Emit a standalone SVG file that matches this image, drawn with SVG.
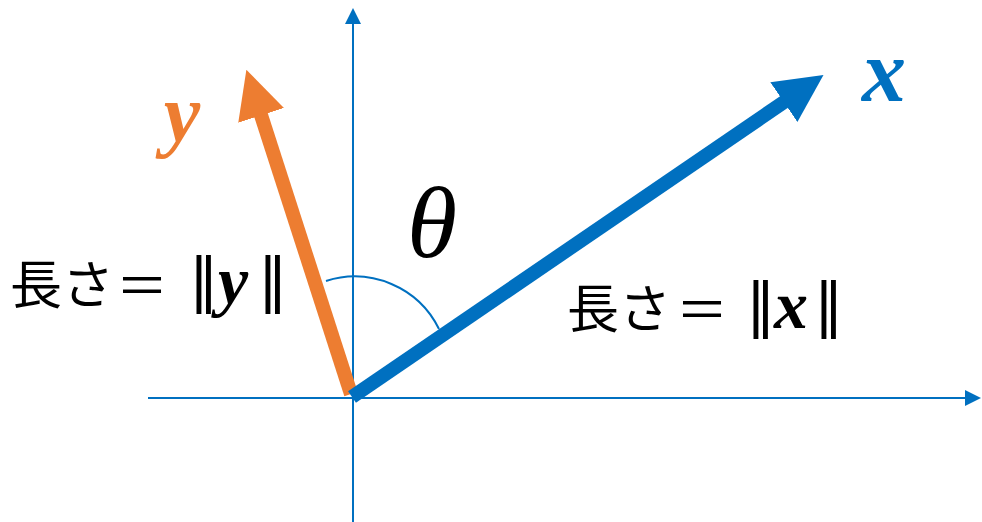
<svg xmlns="http://www.w3.org/2000/svg" width="982" height="522" viewBox="0 0 982 522">
<style>
.axis{stroke:#0070C0;stroke-width:2;fill:none}
.vec{stroke-width:14;fill:none;stroke-linecap:butt}
.jp{font-family:"Noto Sans CJK JP","Noto Sans",sans-serif;font-size:52px;fill:#000}
.math{font-family:"Liberation Serif","DejaVu Serif",serif;font-style:italic;font-weight:bold}
.bar{font-family:"DejaVu Sans",sans-serif;font-size:59px;font-style:normal;font-weight:normal}
</style>
<defs>
<marker id="axhead" markerUnits="userSpaceOnUse" viewBox="0 0 16 16" markerWidth="16" markerHeight="16" refX="1" refY="8" orient="auto">
<path d="M0,0 L16,8 L0,16 z" fill="#0070C0"/>
</marker>
<marker id="bluehead" markerUnits="userSpaceOnUse" viewBox="0 0 48 48" markerWidth="48" markerHeight="48" refX="2" refY="24" orient="auto">
<path d="M0,0 L48,24 L0,48 z" fill="#0070C0"/>
</marker>
<marker id="orangehead" markerUnits="userSpaceOnUse" viewBox="0 0 48 48" markerWidth="48" markerHeight="48" refX="2" refY="24" orient="auto">
<path d="M0,0 L48,24 L0,48 z" fill="#ED7D31"/>
</marker>
</defs>
<g id="axes">
<line class="axis" x1="148" y1="398" x2="966" y2="398" marker-end="url(#axhead)"/>
<line class="axis" x1="353" y1="522" x2="353" y2="23" marker-end="url(#axhead)"/>
</g>
<g id="angle-arc">
<path class="axis" stroke-width="1.5" d="M326,281 A94,94 0 0 1 439,329"/>
</g>
<g id="connectors">
<line id="vec-y" class="vec" stroke="#ED7D31" x1="351" y1="394" x2="260.5" y2="113.5" marker-end="url(#orangehead)"/>
<line id="vec-x" class="vec" stroke="#0070C0" x1="352" y1="397" x2="785.5" y2="101" marker-end="url(#bluehead)"/>
</g>
<g id="label-x">
<text class="math" x="884" y="101" font-size="88" fill="#0070C0" text-anchor="middle">x</text>
</g>
<g id="label-y">
<text class="math" x="182" y="141" font-size="82" fill="#ED7D31" text-anchor="middle">y</text>
</g>
<g id="label-theta">
<text x="432" y="257" font-family="Liberation Serif,DejaVu Serif,serif" font-style="italic" font-size="102" text-anchor="middle">θ</text>
</g>
<g id="label-len-y">
<text class="jp" y="304"><tspan x="10">長さ</tspan><tspan x="120" textLength="44" lengthAdjust="spacingAndGlyphs">=</tspan><tspan x="170"> </tspan><tspan class="bar" x="189" y="300">‖</tspan><tspan class="math" x="218" y="304" font-size="68">y</tspan><tspan class="bar" x="258" y="300">‖</tspan></text>
</g>
<g id="label-len-x">
<text class="jp" y="328"><tspan x="567">長さ</tspan><tspan x="680" textLength="44" lengthAdjust="spacingAndGlyphs">=</tspan><tspan x="727"> </tspan><tspan class="bar" x="746" y="325">‖</tspan><tspan class="math" x="774" y="328" font-size="68">x</tspan><tspan class="bar" x="814" y="325">‖</tspan></text>
</g>
</svg>
